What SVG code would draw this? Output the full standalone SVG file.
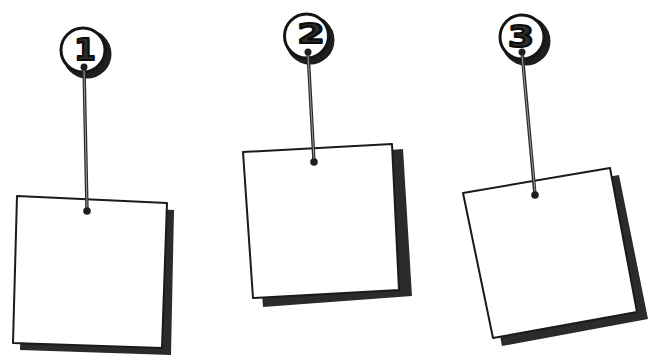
<svg xmlns="http://www.w3.org/2000/svg" width="650" height="357" viewBox="0 0 650 357">
<style>
.paper{fill:#ffffff;stroke:#1a1a1a;stroke-width:2;stroke-linejoin:round}
.shadow{fill:#2b2b2b}
.ring{fill:#ffffff;stroke:#151515;stroke-width:3}
.crescent{fill:#1e1e1e}
.num{font-family:"DejaVu Sans",sans-serif;font-weight:bold;fill:#2e2e2e;stroke:#0d0d0d;stroke-width:2.2;stroke-linejoin:round;text-anchor:middle}
.rod{stroke:#2a2a2a;stroke-width:3.4;stroke-linecap:round;fill:none}
.rodhi{stroke:#9a9a9a;stroke-width:1;fill:none}
.dot{fill:#1e1e1e}
</style>
<rect width="650" height="357" fill="#ffffff"/>

<g id="note1">
  <polygon class="shadow" points="24,203 174,210 171,355 20,350"/>
  <polygon class="paper" points="17,196 167,203 162,348 13,343"/>
</g>
<g id="note2">
  <polygon class="shadow" points="253,160 403,149 412,296 263,307"/>
  <polygon class="paper" points="243,152 392,144 399,290 253,298"/>
</g>
<g id="note3">
  <polygon class="shadow" points="473,201 619,175 648,319 502,346"/>
  <polygon class="paper" points="463,193 610,168 637,312 493,338"/>
</g>

<g id="badge1">
  <circle class="crescent" cx="87" cy="54" r="24.5"/>
  <circle class="ring" cx="83" cy="50" r="22"/>
  <text class="num" x="85" y="60" font-size="31">1</text>
</g>
<g id="badge2">
  <circle class="crescent" cx="310" cy="40" r="24.5"/>
  <circle class="ring" cx="306.5" cy="36" r="22"/>
  <text class="num" x="311" y="43" font-size="27" textLength="27" lengthAdjust="spacingAndGlyphs">2</text>
</g>
<g id="badge3">
  <circle class="crescent" cx="526" cy="41" r="24.5"/>
  <circle class="ring" cx="522" cy="37" r="22"/>
  <text class="num" x="521" y="47" font-size="31" textLength="26" lengthAdjust="spacingAndGlyphs">3</text>
</g>

<g id="connectors">
  <line class="rod" x1="84" y1="67" x2="87" y2="211"/>
  <line class="rodhi" x1="84" y1="70" x2="87" y2="208"/>
  <circle class="dot" cx="84" cy="67" r="3.5"/>
  <circle class="dot" cx="87" cy="211" r="3.8"/>

  <line class="rod" x1="308" y1="52" x2="314" y2="162"/>
  <line class="rodhi" x1="308" y1="55" x2="314" y2="159"/>
  <circle class="dot" cx="308" cy="52" r="3.5"/>
  <circle class="dot" cx="314" cy="162" r="3.8"/>

  <line class="rod" x1="522" y1="52" x2="535" y2="195"/>
  <line class="rodhi" x1="522" y1="55" x2="535" y2="192"/>
  <circle class="dot" cx="522" cy="52" r="3.5"/>
  <circle class="dot" cx="535" cy="195" r="3.8"/>
</g>
</svg>
